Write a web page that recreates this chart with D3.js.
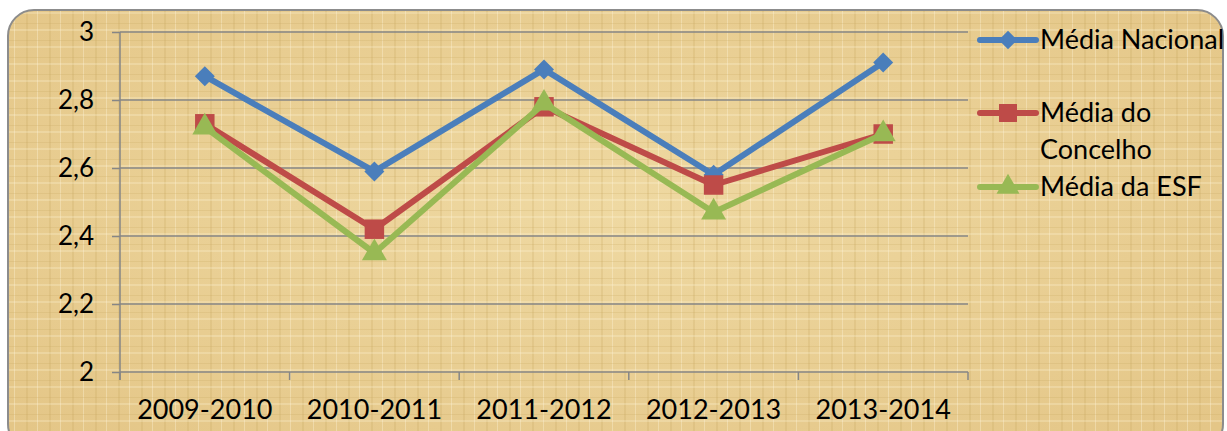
<!DOCTYPE html>
<html>
<head>
<meta charset="utf-8">
<script src="https://cdn.jsdelivr.net/npm/d3@7"></script>
<style>
  body { margin: 0; background: #ffffff; }
  text { font-family: Lato, "Open Sans", sans-serif; fill: #000; }
</style>
</head>
<body>
<div id="chart"></div>
<script>
var categories = ["2009-2010", "2010-2011", "2011-2012", "2012-2013", "2013-2014"];
var nacional = [2.87, 2.59, 2.89, 2.58, 2.91];
var concelho = [2.73, 2.42, 2.78, 2.55, 2.70];
var esf = [2.72, 2.35, 2.79, 2.47, 2.70];
var yTicks = [2, 2.2, 2.4, 2.6, 2.8, 3];

var series = [
    {name: ["Média Nacional"], values: nacional, color: "#4a7ebb", symbol: "diamond"},
    {name: ["Média do", "Concelho"], values: concelho, color: "#be4b48", symbol: "square"},
    {name: ["Média da ESF"], values: esf, color: "#98b954", symbol: "triangle"}
];

function markerPath(kind, scale) {
    if (kind === "triangle") {
        return d3.symbol().type(d3.symbolTriangle).size(270 * scale)();
    }
    return d3.symbol().type(d3.symbolSquare).size((kind === "diamond" ? 200 : 380) * scale)();
}

var width = 1227,
    height = 431,
    plot = {left: 120, right: 968, top: 32, bottom: 372};

var svg = d3.select('#chart')
    .append('svg')
    .attr('width', width)
    .attr('height', height);

// parchment-like background
var defs = svg.append('defs');
var grad = defs.append('radialGradient')
    .attr('id', 'paper')
    .attr('cx', '50%').attr('cy', '45%').attr('r', '70%');
grad.append('stop').attr('offset', '0%').attr('stop-color', '#efd9a2');
grad.append('stop').attr('offset', '100%').attr('stop-color', '#e4c687');

var weave = defs.append('pattern')
    .attr('id', 'weave')
    .attr('patternUnits', 'userSpaceOnUse')
    .attr('width', 23).attr('height', 17);
weave.append('rect').attr('x', 3).attr('width', 2).attr('height', 17)
    .attr('fill', '#c4a25a').attr('opacity', 0.22);
weave.append('rect').attr('x', 14).attr('width', 1).attr('height', 17)
    .attr('fill', '#fff6dc').attr('opacity', 0.35);
weave.append('rect').attr('y', 6).attr('width', 23).attr('height', 1)
    .attr('fill', '#c4a25a').attr('opacity', 0.22);
weave.append('rect').attr('y', 12).attr('width', 23).attr('height', 2)
    .attr('fill', '#fff6dc').attr('opacity', 0.25);

svg.append('rect')
    .attr('x', 8).attr('y', 10)
    .attr('width', 1215).attr('height', 440)
    .attr('rx', 26).attr('ry', 26)
    .attr('fill', 'url(#paper)');
svg.append('rect')
    .attr('x', 8).attr('y', 10)
    .attr('width', 1215).attr('height', 440)
    .attr('rx', 26).attr('ry', 26)
    .attr('fill', 'url(#weave)')
    .attr('stroke', '#8c8c8c')
    .attr('stroke-width', 2);

var x = d3.scaleBand()
    .domain(categories)
    .range([plot.left, plot.right]);

var y = d3.scaleLinear()
    .domain([2, 3])
    .range([plot.bottom, plot.top]);

// gridlines + y axis
var yAxis = svg.append('g')
    .attr('transform', 'translate(' + plot.left + ',0)')
    .call(d3.axisLeft(y)
        .tickValues(yTicks)
        .tickSize(8)
        .tickPadding(18)
        .tickFormat(function (d) { return d3.format('.1f')(d).replace('.', ',').replace(',0', ''); }));
yAxis.select('.domain').attr('stroke', '#868686').attr('stroke-width', 1.5).attr('d', 'M0,' + plot.top + 'V' + (plot.bottom + 8));
yAxis.selectAll('.tick line').attr('stroke', '#868686').attr('stroke-width', 1.5);
yAxis.selectAll('.tick text').style('font-size', '26px').attr('fill', '#000');

svg.append('g')
    .selectAll('line')
    .data(yTicks.slice(1))
    .enter().append('line')
    .attr('x1', plot.left).attr('x2', plot.right)
    .attr('y1', function (d) { return y(d); })
    .attr('y2', function (d) { return y(d); })
    .attr('stroke', '#868686')
    .attr('stroke-width', 1.5);

// x axis
var xAxis = svg.append('g')
    .attr('transform', 'translate(0,' + plot.bottom + ')')
    .call(d3.axisBottom(x).tickSize(0).tickPadding(28));
xAxis.select('.domain').attr('stroke', '#868686').attr('stroke-width', 1.5).attr('d', 'M' + plot.left + ',0H' + plot.right);
xAxis.selectAll('.tick text').style('font-size', '27px').attr('fill', '#000');

var boundaries = categories.map(function (c) { return x(c); }).concat([plot.right]);
xAxis.selectAll('.sep')
    .data(boundaries)
    .enter().append('line')
    .attr('class', 'sep')
    .attr('x1', function (d) { return d; })
    .attr('x2', function (d) { return d; })
    .attr('y1', 0).attr('y2', 8)
    .attr('stroke', '#868686')
    .attr('stroke-width', 1.5);

// lines and markers
var line = d3.line()
    .x(function (d, i) { return x(categories[i]) + x.bandwidth() / 2; })
    .y(function (d) { return y(d); });

series.forEach(function (s) {
    var g = svg.append('g');
    g.append('path')
        .attr('d', line(s.values))
        .attr('fill', 'none')
        .attr('stroke', s.color)
        .attr('stroke-width', 6)
        .attr('stroke-linejoin', 'round');
    g.selectAll('path.marker')
        .data(s.values)
        .enter().append('path')
        .attr('class', 'marker')
        .attr('transform', function (d, i) {
            return 'translate(' + (x(categories[i]) + x.bandwidth() / 2) + ',' + y(d) + ')' +
                (s.symbol === 'diamond' ? ' rotate(45)' : '');
        })
        .attr('d', markerPath(s.symbol, 1))
        .attr('fill', s.color);
});

// legend
var legendY = [40, 113, 187];
series.forEach(function (s, i) {
    var g = svg.append('g').attr('transform', 'translate(0,' + legendY[i] + ')');
    g.append('line')
        .attr('x1', 980).attr('x2', 1036)
        .attr('y1', 0).attr('y2', 0)
        .attr('stroke', s.color)
        .attr('stroke-width', 6)
        .attr('stroke-linecap', 'round');
    g.append('path')
        .attr('transform', 'translate(1008,0)' + (s.symbol === 'diamond' ? ' rotate(45)' : ''))
        .attr('d', markerPath(s.symbol, 0.85))
        .attr('fill', s.color);
    s.name.forEach(function (t, j) {
        g.append('text')
            .attr('x', 1040)
            .attr('y', j * 37)
            .attr('dy', '0.35em')
            .style('font-size', '27px')
            .text(t);
    });
});
</script>
</body>
</html>
